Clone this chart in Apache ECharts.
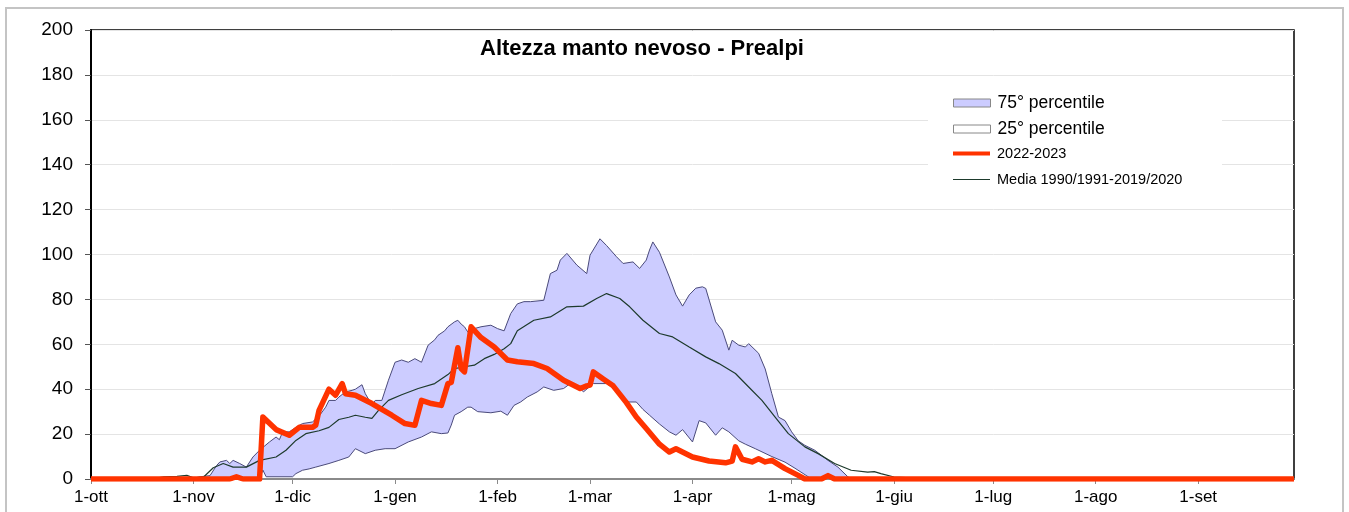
<!DOCTYPE html>
<html>
<head>
<meta charset="utf-8">
<script src="https://cdn.jsdelivr.net/npm/echarts@6/dist/echarts.min.js"></script>
<style>
  * { margin: 0; padding: 0; }
  body { background: #fff; }
</style>
</head>
<body>
<!--contenitore del grafico-->
<div id="main" style="width: 1349px; height: 512px"></div>
<script>
// giorni dal 1 ottobre dove inizia ogni mese
var monthStarts = [0, 31, 61, 92, 123, 151, 182, 212, 243, 273, 304, 335];
var monthNames = ["ott", "nov", "dic", "gen", "feb", "mar", "apr", "mag", "giu", "lug", "ago", "set"];
var yTicks = [0, 20, 40, 60, 80, 100, 120, 140, 160, 180, 200];

// [giorno, cm]
var perc75 = [[0,0],[30,0],[33,1],[36,1.5],[38,6],[39,7.6],[41,8.3],[42,6.9],[43,8.3],[45,6.9],[47,5.3],[49,9.8],[51,12.8],[54,16.5],[56,18.7],[57,17.5],[58,21],[60,21],[62,23],[64,24.7],[67,25.4],[69,28],[71,32],[72,35],[74,35],[75,36.5],[77,38.8],[79,39.5],[80,40],[82,42],[83,38],[85,33],[86,35],[88,35],[90,44],[92,52],[94,53],[96,52],[98,53.6],[100,52],[102,59.6],[104,62],[105,64],[107,66],[108,67.8],[110,70],[111,70.7],[112,69],[113,67.8],[114,65.5],[116,67],[118,67.8],[121,68.5],[123,67],[125,66],[127,73.7],[129,78],[131,79],[133,79],[137,79.6],[139,91.5],[141,93],[142,97.5],[144,100.5],[147,95.3],[150,91.5],[151,99.7],[154,107],[156,104],[159,99],[161,96],[164,96.7],[166,93.8],[168,97.5],[169,102],[170,105.6],[172,101],[175,90],[177,82],[179,77],[181,82],[183,85],[185,85.6],[186,84.9],[189,70],[191,66.3],[193,57.4],[194,61.8],[196,59.6],[198,58.8],[199,60.3],[202,56],[204,49],[206,38],[208,27.6],[210,26],[212,21],[214,17],[216,15],[219,12.8],[223,8.3],[226,5.3],[229,1],[230,0],[364,0]];
var perc25 = [[0,0],[51,0],[52,4],[53,1],[61,1],[62,2.4],[64,3.9],[66,4.5],[68,5.3],[72,6.9],[75,8.3],[78,9.8],[80,13.5],[83,11.3],[86,12.8],[89,13.5],[92,13.5],[96,16.5],[100,18.7],[103,21],[106,20.2],[108,20.5],[109,24],[110,28.4],[112,30],[114,32],[115,32],[117,30],[121,29.5],[124,30.2],[126,28.4],[128,32.8],[130,34.3],[132,36.5],[135,38.8],[137,41],[140,39.5],[143,40.3],[145,42.5],[148,40.3],[149,38.8],[152,42.5],[156,42.5],[159,39.5],[162,34.3],[165,34.3],[167,31],[169,28.4],[172,24.5],[175,21],[177,19.5],[179,22],[182,16.5],[184,26],[186,25],[189,19.5],[191,22.8],[193,21],[196,17],[198,15.5],[201,13.5],[206,10],[210,7.5],[213,4.8],[217,1],[218,0],[364,0]];
var media = [[0,0],[18,0],[22,1],[26,1.2],[29,1.6],[31,0.5],[34,0.8],[37,5],[40,6.9],[43,5.3],[47,5.3],[51,8.3],[56,9.8],[59,12.8],[62,17.2],[65,20.2],[69,21.5],[72,23],[75,26.5],[78,27.5],[80,28.4],[83,27.5],[85,27],[87,30.6],[90,35],[94,37.5],[99,40.3],[104,42.5],[108,46.5],[110,49.2],[113,50],[116,50.7],[119,53.6],[122,55.5],[125,58],[127,60.3],[129,66],[134,70.7],[139,72.2],[144,76.7],[149,77],[153,80.4],[156,82.6],[160,80.4],[163,76.7],[167,70.7],[172,64.8],[176,63.3],[181,58.8],[186,54.4],[190,51.4],[195,47],[199,41],[203,35],[207,27.6],[211,20.2],[216,14.3],[220,11.3],[225,6.9],[230,3.9],[235,3.1],[237,3.3],[239,2.4],[243,0.9],[250,0.4],[258,0],[364,0]];
var stagione = [[0,0],[42,0],[44,1],[46,0],[51,0],[52,27.6],[56,22],[60,19.5],[63,23],[67,23],[68,24],[69,30.6],[72,40],[74,37.3],[76,42.5],[77,38],[80,37.3],[85,33.6],[91,28.4],[95,24.7],[98,23.9],[100,35],[103,33.6],[106,32.8],[108,42.5],[109,43],[111,58.5],[112,49.2],[113,47.7],[115,67.8],[118,63],[122,58.8],[126,53],[129,52.2],[134,51.4],[138,49.2],[143,44],[148,40.3],[150,41.5],[151,41.8],[152,47.7],[155,44.5],[158,41.5],[162,34],[165,27.6],[168,22.5],[172,15.5],[175,12],[177,13.5],[182,9.8],[187,8],[192,7.2],[194,8],[195,14.3],[197,8.8],[200,7.6],[202,9],[204,7.6],[206,8.3],[210,4.6],[214,1.6],[216,0],[221,0],[223,1.5],[225,0],[364,0]];

var font = "'Liberation Sans', Arial, sans-serif";
var band = "#ccccff";
var edge = "#4a4a7a";
var red = "#ff3300";
var dark = "#1d3a2c";

var chart = echarts.init(document.getElementById("main"));

// una legenda per voce, così ognuna ha il suo font
function legendItem(name, top, fontSize, h, style) {
  return {
    left: 953,
    top: top,
    padding: 0,
    itemWidth: 37,
    itemHeight: h,
    itemGap: 0,
    selectedMode: false,
    textStyle: { fontFamily: font, fontSize: fontSize, color: "#000", padding: [0, 0, 0, 2] },
    data: [{ name: name, icon: "rect", itemStyle: style }],
  };
}

chart.setOption({
  animation: false,
  title: {
    text: "Altezza manto nevoso - Prealpi",
    left: 480,
    top: 38,
    padding: 0,
    textStyle: { fontFamily: font, fontSize: 22, fontWeight: "bold", color: "#000" },
  },
  graphic: [
    // cornice esterna
    { type: "rect", z: 0, shape: { x: 6, y: 8, width: 1337, height: 520 },
      style: { fill: "none", stroke: "#c4c4c4", lineWidth: 2 } },
    // sfondo bianco della legenda
    { type: "rect", z: 1, shape: { x: 928, y: 86, width: 294, height: 108 },
      style: { fill: "#fff" } },
  ],
  legend: [
    legendItem("75° percentile", 94, 17.5, 8, { color: band, borderColor: "#888", borderWidth: 1 }),
    legendItem("25° percentile", 120, 17.5, 8, { color: "#fff", borderColor: "#888", borderWidth: 1 }),
    legendItem("2022-2023", 146, 14.5, 4, { color: red, borderWidth: 0 }),
    legendItem("Media 1990/1991-2019/2020", 172, 14.5, 1, { color: dark, borderWidth: 0 }),
  ],
  grid: {
    left: 91,
    top: 30,
    width: 1203,
    height: 449,
    show: true,
    borderColor: "#000",
    borderWidth: 1.5,
  },
  xAxis: {
    type: "value",
    min: 0,
    max: 364,
    z: 3,
    splitLine: { show: false },
    axisLine: { lineStyle: { color: "#8a8a8a", width: 2 } },
    axisTick: { customValues: monthStarts, length: 5, lineStyle: { color: "#8a8a8a" } },
    axisLabel: {
      customValues: monthStarts,
      margin: 10,
      fontFamily: font,
      fontSize: 17,
      color: "#000",
      formatter: function (v) {
        return "1-" + monthNames[monthStarts.indexOf(v)];
      },
    },
  },
  yAxis: {
    type: "value",
    min: 0,
    max: 200,
    interval: 20,
    axisLine: { show: true, lineStyle: { color: "#000", width: 2 } },
    axisTick: { show: true, length: 6, lineStyle: { color: "#555" } },
    axisLabel: {
      margin: 18,
      fontFamily: font,
      fontSize: 19,
      color: "#000",
      formatter: function (v) {
        return yTicks.indexOf(v) >= 0 ? String(v) : "";
      },
    },
    splitLine: { lineStyle: { color: "#e4e4e4", width: 1 } },
  },
  series: [
    {
      name: "75° percentile",
      type: "line",
      data: perc75,
      symbol: "none",
      z: 2,
      lineStyle: { color: edge, width: 1 },
      itemStyle: { color: band },
      areaStyle: { color: band, opacity: 1 },
    },
    {
      name: "25° percentile",
      type: "line",
      data: perc25,
      symbol: "none",
      z: 2,
      lineStyle: { color: edge, width: 1 },
      itemStyle: { color: "#fff" },
      areaStyle: { color: "#fff", opacity: 1 },
    },
    {
      name: "Media 1990/1991-2019/2020",
      type: "line",
      data: media,
      symbol: "none",
      z: 3,
      lineStyle: { color: dark, width: 1.2 },
      itemStyle: { color: dark },
    },
    {
      name: "2022-2023",
      type: "line",
      data: stagione,
      symbol: "none",
      z: 4,
      lineStyle: { color: red, width: 5.5, join: "round" },
      itemStyle: { color: red },
    },
  ],
});
</script>
</body>
</html>
